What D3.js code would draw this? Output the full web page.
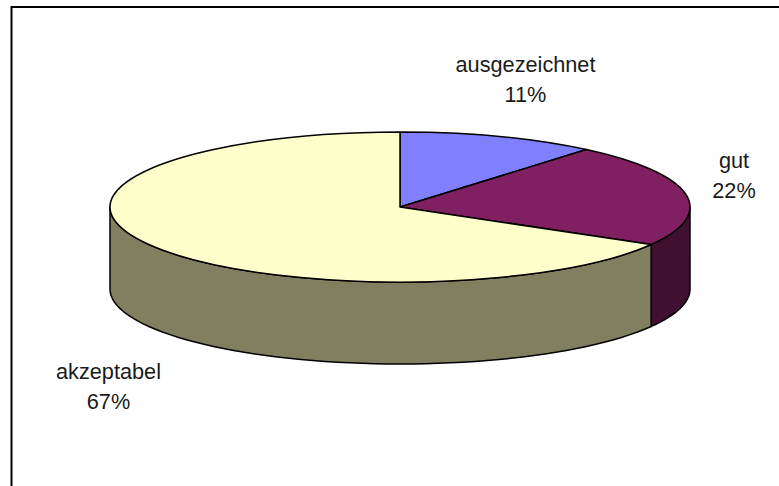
<!DOCTYPE html>
<html>
<head>
<meta charset="utf-8">
<script src="https://cdnjs.cloudflare.com/ajax/libs/d3/7.8.5/d3.min.js"></script>
<style>
    html, body { margin: 0; padding: 0; background: #fff; }
    svg { display: block; }
    text { font-family: "Liberation Sans", Arial, sans-serif; font-size: 21.7px; fill: #1a1a1a; text-anchor: middle; }
</style>
</head>
<body>
<div id="chart"></div>
<script>
const categories = ['ausgezeichnet', 'gut', 'akzeptabel'];
// the slices fit ninths better than the rounded labels do
const values = [1, 2, 6];
const topColors = ['#8080ff', '#802060', '#ffffcc'];
const sideColors = ['#404080', '#401030', '#808060'];
const labelPos = [[525.5, 72], [734, 168], [108.5, 379]];

const width = 779, height = 486;
const cx = 400, cy = 207, rx = 290, ry = 75, depth = 82;

const svg = d3.select('#chart').append('svg')
    .attr('width', width)
    .attr('height', height);

// frame, only left and top are visible
svg.append('path')
    .attr('d', d3.line()([[11.5, height], [11.5, 7], [width, 7]]))
    .attr('fill', 'none')
    .attr('stroke', '#000')
    .attr('stroke-width', 2);

const pieData = d3.pie().sort(null).value(d => d)(values);
const total = d3.sum(values);

const px = a => cx + rx * Math.sin(a);
const py = a => cy - ry * Math.cos(a);

// front wall of the slices, only the part between 3 and 9 o'clock
const walls = svg.append('g');
pieData.forEach((d, i) => {
    const a0 = Math.max(d.startAngle, Math.PI / 2);
    const a1 = Math.min(d.endAngle, Math.PI * 1.5);
    if (a1 <= a0) return;
    const steps = d3.range(0, 61).map(k => a0 + (a1 - a0) * k / 60);
    const pts = steps.map(a => [px(a), py(a)])
        .concat(steps.slice().reverse().map(a => [px(a), py(a) + depth]));
    walls.append('path')
        .attr('d', d3.line()(pts) + 'Z')
        .attr('fill', sideColors[i])
        .attr('stroke', '#000')
        .attr('stroke-width', 1.5)
        .attr('stroke-linejoin', 'round');
});

// top face: a normal d3 arc squashed to an ellipse
const arc = d3.arc().innerRadius(0).outerRadius(rx);
svg.append('g')
    .attr('transform', `translate(${cx},${cy}) scale(1,${ry / rx})`)
    .selectAll('path')
    .data(pieData)
    .enter()
    .append('path')
    .attr('d', arc)
    .attr('fill', (d, i) => topColors[i])
    .attr('stroke', '#000')
    .attr('stroke-width', 1.5)
    .attr('stroke-linejoin', 'round')
    .attr('vector-effect', 'non-scaling-stroke');

// labels
categories.forEach((c, i) => {
    const t = svg.append('text')
        .attr('x', labelPos[i][0])
        .attr('y', labelPos[i][1]);
    t.append('tspan').attr('x', labelPos[i][0]).text(c);
    t.append('tspan').attr('x', labelPos[i][0]).attr('dy', 30)
        .text(Math.round(values[i] / total * 100) + '%');
});
</script>
</body>
</html>
